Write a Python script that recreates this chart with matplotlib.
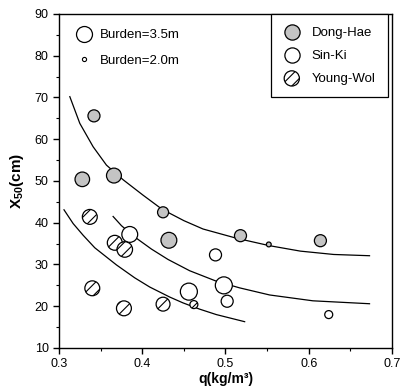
import matplotlib
matplotlib.use('Agg')
import matplotlib.pyplot as plt
from matplotlib.lines import Line2D
from matplotlib.ticker import MultipleLocator

plt.rcParams['font.family'] = ['Liberation Sans', 'DejaVu Sans']
plt.rcParams['mathtext.fontset'] = 'custom'
plt.rcParams['mathtext.bf'] = 'Liberation Sans:bold'
plt.rcParams['mathtext.rm'] = 'Liberation Sans:bold'
plt.rcParams['mathtext.default'] = 'bf'
plt.rcParams['hatch.linewidth'] = 0.8

# Dong-Hae
dh_q = [0.342, 0.328, 0.366, 0.425, 0.432, 0.518, 0.614, 0.552]
dh_x50 = [65.6, 50.4, 51.3, 42.5, 35.8, 36.9, 35.7, 34.8]
dh_size = [75, 110, 115, 63, 130, 75, 75, 12]

# Sin-Ki
sk_q = [0.385, 0.488, 0.456, 0.498, 0.502, 0.624]
sk_x50 = [37.2, 32.3, 23.5, 25.0, 21.2, 18.0]
sk_size = [130, 75, 150, 150, 75, 33]

# Young-Wol
yw_q = [0.337, 0.367, 0.379, 0.340, 0.378, 0.425, 0.462]
yw_x50 = [41.4, 35.2, 33.6, 24.3, 19.5, 20.5, 20.4]
yw_size = [115, 115, 125, 115, 115, 100, 33]

# fitted curves
c1_q = [0.313, 0.325, 0.341, 0.357, 0.377, 0.401, 0.424, 0.450, 0.473, 0.513, 0.553, 0.590, 0.630, 0.673]
c1_x50 = [70.2, 63.8, 58.2, 53.8, 50.3, 46.6, 43.2, 40.5, 38.5, 36.3, 34.5, 33.2, 32.4, 32.1]
c2_q = [0.365, 0.375, 0.385, 0.395, 0.411, 0.431, 0.457, 0.489, 0.517, 0.553, 0.605, 0.673]
c2_x50 = [41.5, 39.3, 37.6, 36.0, 33.7, 31.2, 28.5, 26.0, 24.4, 22.7, 21.3, 20.6]
c3_q = [0.306, 0.317, 0.329, 0.343, 0.369, 0.391, 0.409, 0.433, 0.449, 0.469, 0.489, 0.523]
c3_x50 = [43.1, 39.8, 37.0, 34.0, 29.9, 26.8, 24.6, 22.2, 20.8, 19.3, 18.0, 16.3]

fig = plt.figure(figsize=(4.03, 3.91), dpi=100)
ax = fig.add_axes([0.1464, 0.11, 0.8263, 0.8542])

for qq, yy in [(c1_q, c1_x50), (c2_q, c2_x50), (c3_q, c3_x50)]:
    ax.plot(qq, yy, color='black', lw=0.9, zorder=2)

ax.scatter(dh_q, dh_x50, s=dh_size, facecolor='#c4c4c4', edgecolor='black', linewidth=0.9, zorder=3)
ax.scatter(sk_q, sk_x50, s=sk_size, facecolor='white', edgecolor='black', linewidth=0.9, zorder=3)
ax.scatter(yw_q, yw_x50, s=yw_size, facecolor='white', edgecolor='black', linewidth=0.9, hatch='///', zorder=3)

ax.set_xlim(0.3, 0.7)
ax.set_ylim(10, 90)
ax.xaxis.set_major_locator(MultipleLocator(0.1))
ax.xaxis.set_minor_locator(MultipleLocator(0.05))
ax.yaxis.set_major_locator(MultipleLocator(10))
ax.yaxis.set_minor_locator(MultipleLocator(5))
ax.set_xticks([0.3, 0.4, 0.5, 0.6, 0.7])
ax.set_xticklabels(['0.3', '0.4', '0.5', '0.6', '0.7'])
ax.tick_params(which='major', direction='out', length=4, width=1, labelsize=9, top=False, right=False)
ax.tick_params(which='minor', direction='out', length=2.5, width=0.8, top=False, right=False)
for sp in ax.spines.values():
    sp.set_linewidth(1)

ax.set_xlabel('q(kg/m³)', fontsize=10, fontweight='bold', labelpad=1)
ax.set_ylabel('X$_{50}$(cm)', fontsize=11, fontweight='bold', labelpad=6)

# burden legend
h_big = Line2D([], [], ls='none', marker='o', markersize=11.5, markerfacecolor='white',
               markeredgecolor='black', markeredgewidth=0.9)
h_small = Line2D([], [], ls='none', marker='o', markersize=3, markerfacecolor='white',
                 markeredgecolor='black', markeredgewidth=0.8)
leg1 = ax.legend([h_big, h_small], ['Burden=3.5m', 'Burden=2.0m'], loc='upper left',
                 frameon=False, fontsize=9.5, handlelength=1.2, handletextpad=0.6,
                 labelspacing=1.0, borderaxespad=0.4, bbox_to_anchor=(0.02, 0.986))
ax.add_artist(leg1)

# site legend
h_dh = ax.scatter([], [], s=120, facecolor='#c4c4c4', edgecolor='black', linewidth=0.9)
h_sk = ax.scatter([], [], s=120, facecolor='white', edgecolor='black', linewidth=0.9)
h_yw = ax.scatter([], [], s=120, facecolor='white', edgecolor='black', linewidth=0.9, hatch='///')
leg2 = ax.legend([h_dh, h_sk, h_yw], ['Dong-Hae', 'Sin-Ki', 'Young-Wol'], loc='upper right',
                 bbox_to_anchor=(0.988, 1.0), borderaxespad=0, fontsize=9.5,
                 handlelength=1.2, handletextpad=0.9, labelspacing=0.82, borderpad=0.95,
                 fancybox=False, edgecolor='black', framealpha=1, scatterpoints=1)
leg2.get_frame().set_linewidth(0.9)

fig.savefig('out.png', dpi=100)
